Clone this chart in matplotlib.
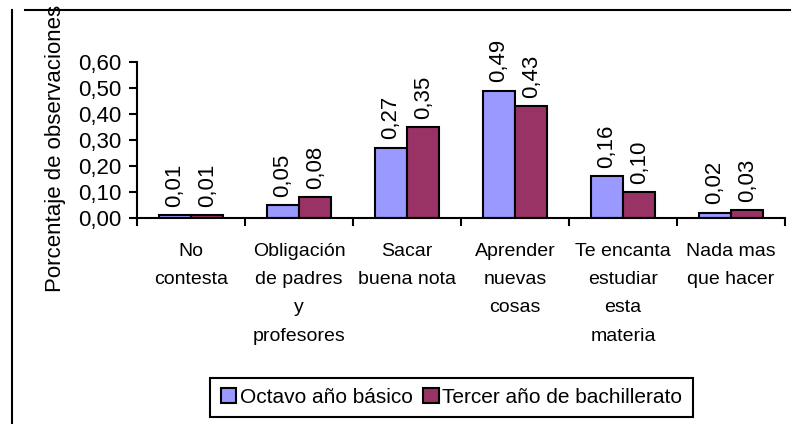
import matplotlib
matplotlib.use('Agg')
import matplotlib.pyplot as plt
from matplotlib.lines import Line2D
import numpy as np

# datos
categorias = ['No\ncontesta', 'Obligación\nde padres\ny\nprofesores', 'Sacar\nbuena nota',
              'Aprender\nnuevas\ncosas', 'Te encanta\nestudiar\nesta\nmateria', 'Nada mas\nque hacer']
octavo = [0.01, 0.05, 0.27, 0.49, 0.16, 0.02]
tercero = [0.01, 0.08, 0.35, 0.43, 0.10, 0.03]
series = ['Octavo año básico', 'Tercer año de bachillerato']
y_ticks = [0.0, 0.1, 0.2, 0.3, 0.4, 0.5, 0.6]

plt.rcParams['font.family'] = ['Liberation Sans', 'DejaVu Sans']
fs = 16

W, H = 794, 424
fig = plt.figure(figsize=(W / 100, H / 100), dpi=100)
ax = fig.add_axes([137 / W, 1 - 218 / H, (785 - 137) / W, (218 - 62) / H])

x = np.arange(len(categorias))
ancho = 0.3
b1 = ax.bar(x - ancho / 2, octavo, ancho, color='#9999FF', edgecolor='black', linewidth=1.5, label=series[0])
b2 = ax.bar(x + ancho / 2, tercero, ancho, color='#993366', edgecolor='black', linewidth=1.5, label=series[1])

for barras, vals in ((b1, octavo), (b2, tercero)):
    for rect, v in zip(barras, vals):
        ax.annotate(f'{v:.2f}'.replace('.', ','),
                    (rect.get_x() + rect.get_width() / 2, rect.get_height()),
                    xytext=(0, 6), textcoords='offset points',
                    rotation=90, ha='center', va='bottom', fontsize=fs, annotation_clip=False)

ax.set_xlim(-0.5, len(categorias) - 0.5)
ax.set_ylim(0, 0.6)
ax.set_yticks(y_ticks)
ax.set_yticklabels([f'{t:.2f}'.replace('.', ',') for t in y_ticks], fontsize=fs)

# marcas en los limites de categoria, etiquetas al centro
ax.set_xticks(np.arange(len(categorias) + 1) - 0.5)
ax.set_xticklabels([])
ax.set_xticks(x, minor=True)
ax.set_xticklabels(categorias, minor=True, fontsize=14, linespacing=1.86, va='top')
ax.tick_params(axis='x', which='major', direction='out', length=6, width=1.5)
ax.tick_params(axis='x', which='minor', length=0, pad=18)
ax.tick_params(axis='y', direction='out', length=6, width=1.5, pad=5)

for s in ('top', 'right'):
    ax.spines[s].set_visible(False)
for s in ('left', 'bottom'):
    ax.spines[s].set_linewidth(1.5)

fig.text(56 / W, 1 - 148 / H, 'Porcentaje de observaciones', rotation=90,
         ha='center', va='center', fontsize=fs)

leg = fig.legend(loc='center', bbox_to_anchor=(451.5 / W, 1 - 397.5 / H), ncol=2,
                 fontsize=15, frameon=True, fancybox=False, edgecolor='black', framealpha=1,
                 handlelength=0.75, handleheight=0.75, handletextpad=0.15, columnspacing=0.53,
                 borderpad=0.5, borderaxespad=0)
leg.get_frame().set_linewidth(1.5)

# bordes del area del grafico (recortados)
fig.add_artist(Line2D([25 / W, 790 / W], [1 - 10 / H, 1 - 10 / H], color='black', linewidth=1.5))
fig.add_artist(Line2D([12 / W, 12 / W], [1 - 10 / H, 0], color='black', linewidth=1.5))

fig.savefig('out.png', dpi=100)
